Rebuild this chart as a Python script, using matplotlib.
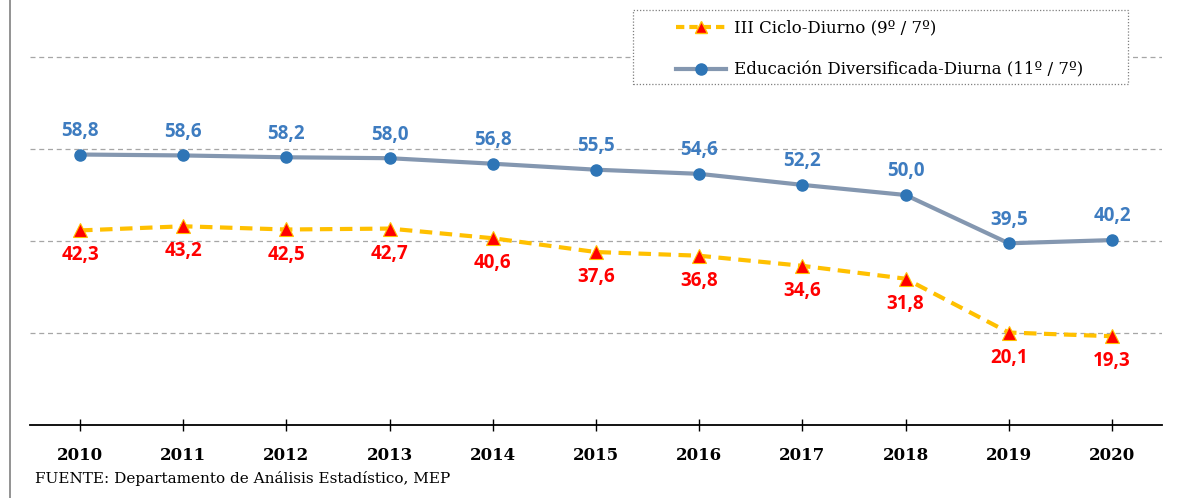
import numpy as np
from matplotlib import pyplot as plt
from matplotlib.lines import Line2D
from matplotlib.patches import Rectangle

years = [2010, 2011, 2012, 2013, 2014, 2015, 2016, 2017, 2018, 2019, 2020]
ciclo = [42.3, 43.2, 42.5, 42.7, 40.6, 37.6, 36.8, 34.6, 31.8, 20.1, 19.3]
diversificada = [58.8, 58.6, 58.2, 58.0, 56.8, 55.5, 54.6, 52.2, 50.0, 39.5, 40.2]
label_ciclo = "III Ciclo-Diurno (9º / 7º)"
label_div = "Educación Diversificada-Diurna (11º / 7º)"
fuente = "FUENTE: Departamento de Análisis Estadístico, MEP"

serif = ["DejaVu Serif"]
sans = ["Open Sans", "DejaVu Sans"]

if __name__ == "__main__":
    fig = plt.figure(figsize=(11.82, 4.98), dpi=100)
    ax = fig.add_axes([30 / 1182, 73 / 498, 1132 / 1182, 414 / 498])

    x = np.arange(len(years))
    ax.plot(x, diversificada, color="#8497B0", lw=3, marker="o", ms=8,
            mfc="#2E75B6", mec="#2E75B6", zorder=3)
    ax.plot(x, ciclo, color="#FFC000", lw=3, ls=(0, (3, 1.8)), marker="^", ms=10,
            mfc="#FF0000", mec="#FFC000", mew=0.8, zorder=3)

    for xi, v in zip(x, diversificada):
        ax.annotate(f"{v:.1f}".replace(".", ","), (xi, v), xytext=(0, 17),
                    textcoords="offset points", ha="center", va="center",
                    color="#3E7CC0", fontsize=13.5, fontweight="bold", family=sans)
    for xi, v in zip(x, ciclo):
        ax.annotate(f"{v:.1f}".replace(".", ","), (xi, v), xytext=(0, -18),
                    textcoords="offset points", ha="center", va="center",
                    color="#FF0000", fontsize=13.5, fontweight="bold", family=sans)

    ax.set_xlim(-0.485, len(years) - 1 + 0.485)
    ax.set_ylim(0, 90)
    ax.set_yticks([20, 40, 60, 80])
    ax.yaxis.grid(True, color="#A6A6A6", ls=(0, (4, 3)), lw=0.9)
    ax.tick_params(axis="y", left=False, labelleft=False)
    ax.set_xticks(x)
    ax.set_xticklabels([str(y) for y in years], fontsize=12, fontweight="bold",
                       family=serif)
    ax.tick_params(axis="x", direction="inout", length=9, width=1, pad=11)
    for s in ["top", "right", "left"]:
        ax.spines[s].set_visible(False)
    ax.spines["bottom"].set_linewidth(1.3)

    # legend box drawn separately so the inner padding can match
    fig.add_artist(Rectangle((633 / 1182, 1 - 84 / 498), 495 / 1182, 74 / 498,
                             transform=fig.transFigure, fill=True, fc="white",
                             ec="#7F7F7F", lw=0.9, ls=(0, (1, 1.5)), zorder=5))
    handles = [
        Line2D([], [], color="#FFC000", lw=3, ls=(0, (2, 1.2)), marker="^", ms=9,
               mfc="#FF0000", mec="#FFC000"),
        Line2D([], [], color="#8497B0", lw=3, marker="o", ms=8,
               mfc="#2E75B6", mec="#2E75B6"),
    ]
    leg = fig.legend(handles, [label_ciclo, label_div], loc="center left",
                     bbox_to_anchor=(676 / 1182, 1 - 49 / 498), frameon=False,
                     prop={"family": serif, "size": 12},
                     borderpad=0, labelspacing=1.5, handlelength=3.0,
                     handletextpad=0.5, borderaxespad=0)
    leg.set_zorder(6)

    fig.add_artist(Line2D([10 / 1182, 10 / 1182], [0, 1], color="#808080", lw=1.2))
    fig.text(35 / 1182, 1 - 478 / 498, fuente, fontsize=11, family=serif,
             va="center", ha="left")

    plt.savefig("out.png", dpi=100)
